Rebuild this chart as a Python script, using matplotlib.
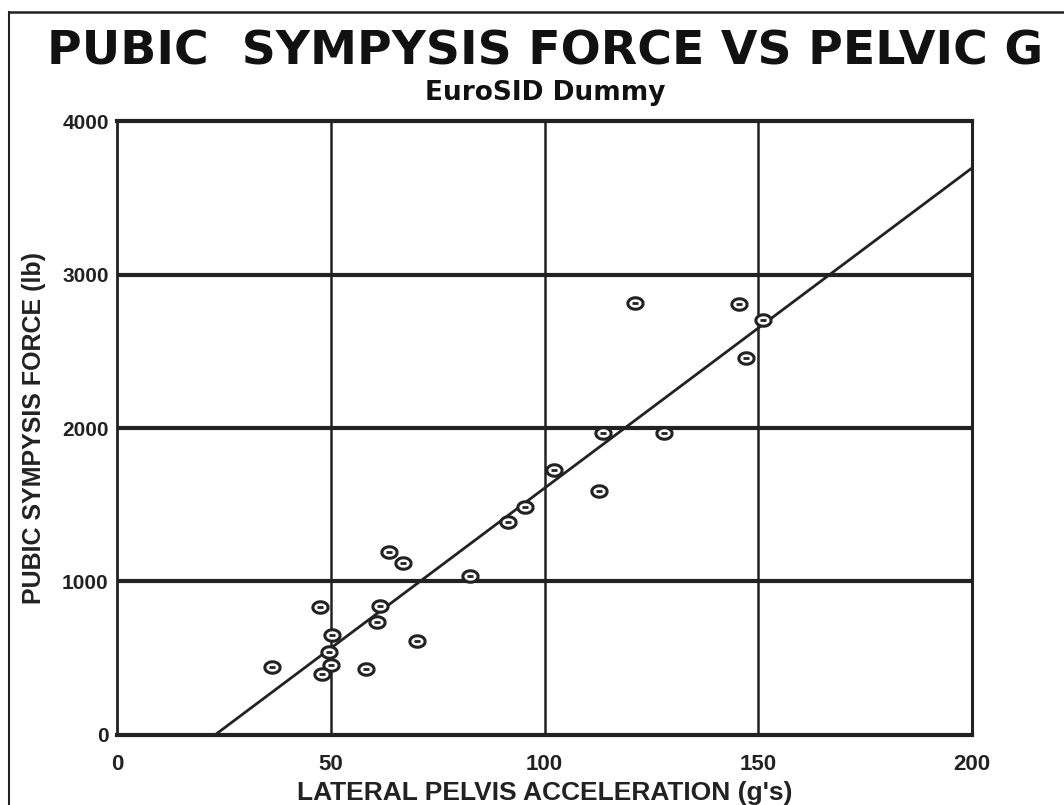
import numpy as np
import matplotlib
matplotlib.use("Agg")
import matplotlib.pyplot as plt
from matplotlib.path import Path
from matplotlib.lines import Line2D

# data
accel_g = [36.2, 47.5, 50.2, 49.7, 50.0, 47.9, 58.2, 60.7, 61.5, 63.7, 67.0, 70.1,
           82.6, 91.5, 95.4, 102.2, 112.8, 113.8, 128.0, 121.2, 145.6, 151.0, 147.1]
force_lb = [445, 836, 651, 543, 456, 397, 428, 738, 840, 1194, 1119, 614,
            1036, 1390, 1483, 1726, 1590, 1969, 1969, 2816, 2808, 2704, 2454]

# regression line end points as drawn
fit_x = [22.9, 200]
fit_y = [0, 3694]

x_ticks = [0, 50, 100, 150, 200]
y_ticks = [0, 1000, 2000, 3000, 4000]

lab_font = ['Liberation Sans', 'DejaVu Sans']

# elliptical open marker
t = np.linspace(0, 2 * np.pi, 40)
ell = Path(np.column_stack([np.cos(t), 0.75 * np.sin(t)]))

fig = plt.figure(figsize=(10.64, 8.05), dpi=100)
ax = fig.add_axes([0.110, 0.087, 0.8035, 0.7626])

ax.set_xlim(0, 200)
ax.set_ylim(0, 4000)

# grid: heavy horizontal, lighter vertical
for yv in y_ticks[1:-1]:
    ax.axhline(yv, color='#222222', lw=3.0, zorder=1)
for xv in x_ticks[1:-1]:
    ax.axvline(xv, color='#222222', lw=1.8, zorder=1)

ax.plot(fit_x, fit_y, color='#222222', lw=2.0, zorder=2)

ax.plot(accel_g, force_lb, ls='none', marker=ell, ms=11, mfc='white',
        mec='#222222', mew=2.2, zorder=3)
ax.plot(accel_g, force_lb, ls='none', marker='_', ms=5, mec='#222222',
        mew=2.0, zorder=4)

for side, w in [('top', 3.0), ('bottom', 3.0), ('left', 2.0), ('right', 2.2)]:
    ax.spines[side].set_linewidth(w)
    ax.spines[side].set_color('#222222')

ax.set_xticks(x_ticks)
ax.set_yticks(y_ticks)
ax.set_xticklabels([str(v) for v in x_ticks], family=lab_font, fontsize=16, fontweight='bold')
ax.set_yticklabels([str(v) for v in y_ticks], family=lab_font, fontsize=15, fontweight='bold')
ax.tick_params(axis='x', length=0, pad=14, colors='#222222')
ax.tick_params(axis='y', length=0, pad=6, colors='#222222')

ax.set_xlabel("LATERAL PELVIS ACCELERATION (g's)", family=lab_font, fontsize=19,
              fontweight='bold', color='#222222')
ax.set_ylabel("PUBIC SYMPYSIS FORCE (lb)", family=lab_font, fontsize=18,
              fontweight='bold', color='#222222')
ax.xaxis.set_label_coords(0.5, -0.075)
ax.yaxis.set_label_coords(-0.083, 0.5)

fig.text(0.512, 0.935, "PUBIC  SYMPYSIS FORCE VS PELVIC G", ha='center', va='center',
         fontsize=34, fontweight='bold', color='#111111')
fig.text(0.512, 0.885, "EuroSID Dummy", ha='center', va='center',
         fontsize=19, fontweight='bold', color='#111111')

# page frame from the scan
fig.add_artist(Line2D([0.008, 1.0], [0.985, 0.985], color='#222222', lw=1.8))
fig.add_artist(Line2D([0.008, 0.008], [0.0, 0.985], color='#222222', lw=1.5))

fig.savefig("out.png", dpi=100)
